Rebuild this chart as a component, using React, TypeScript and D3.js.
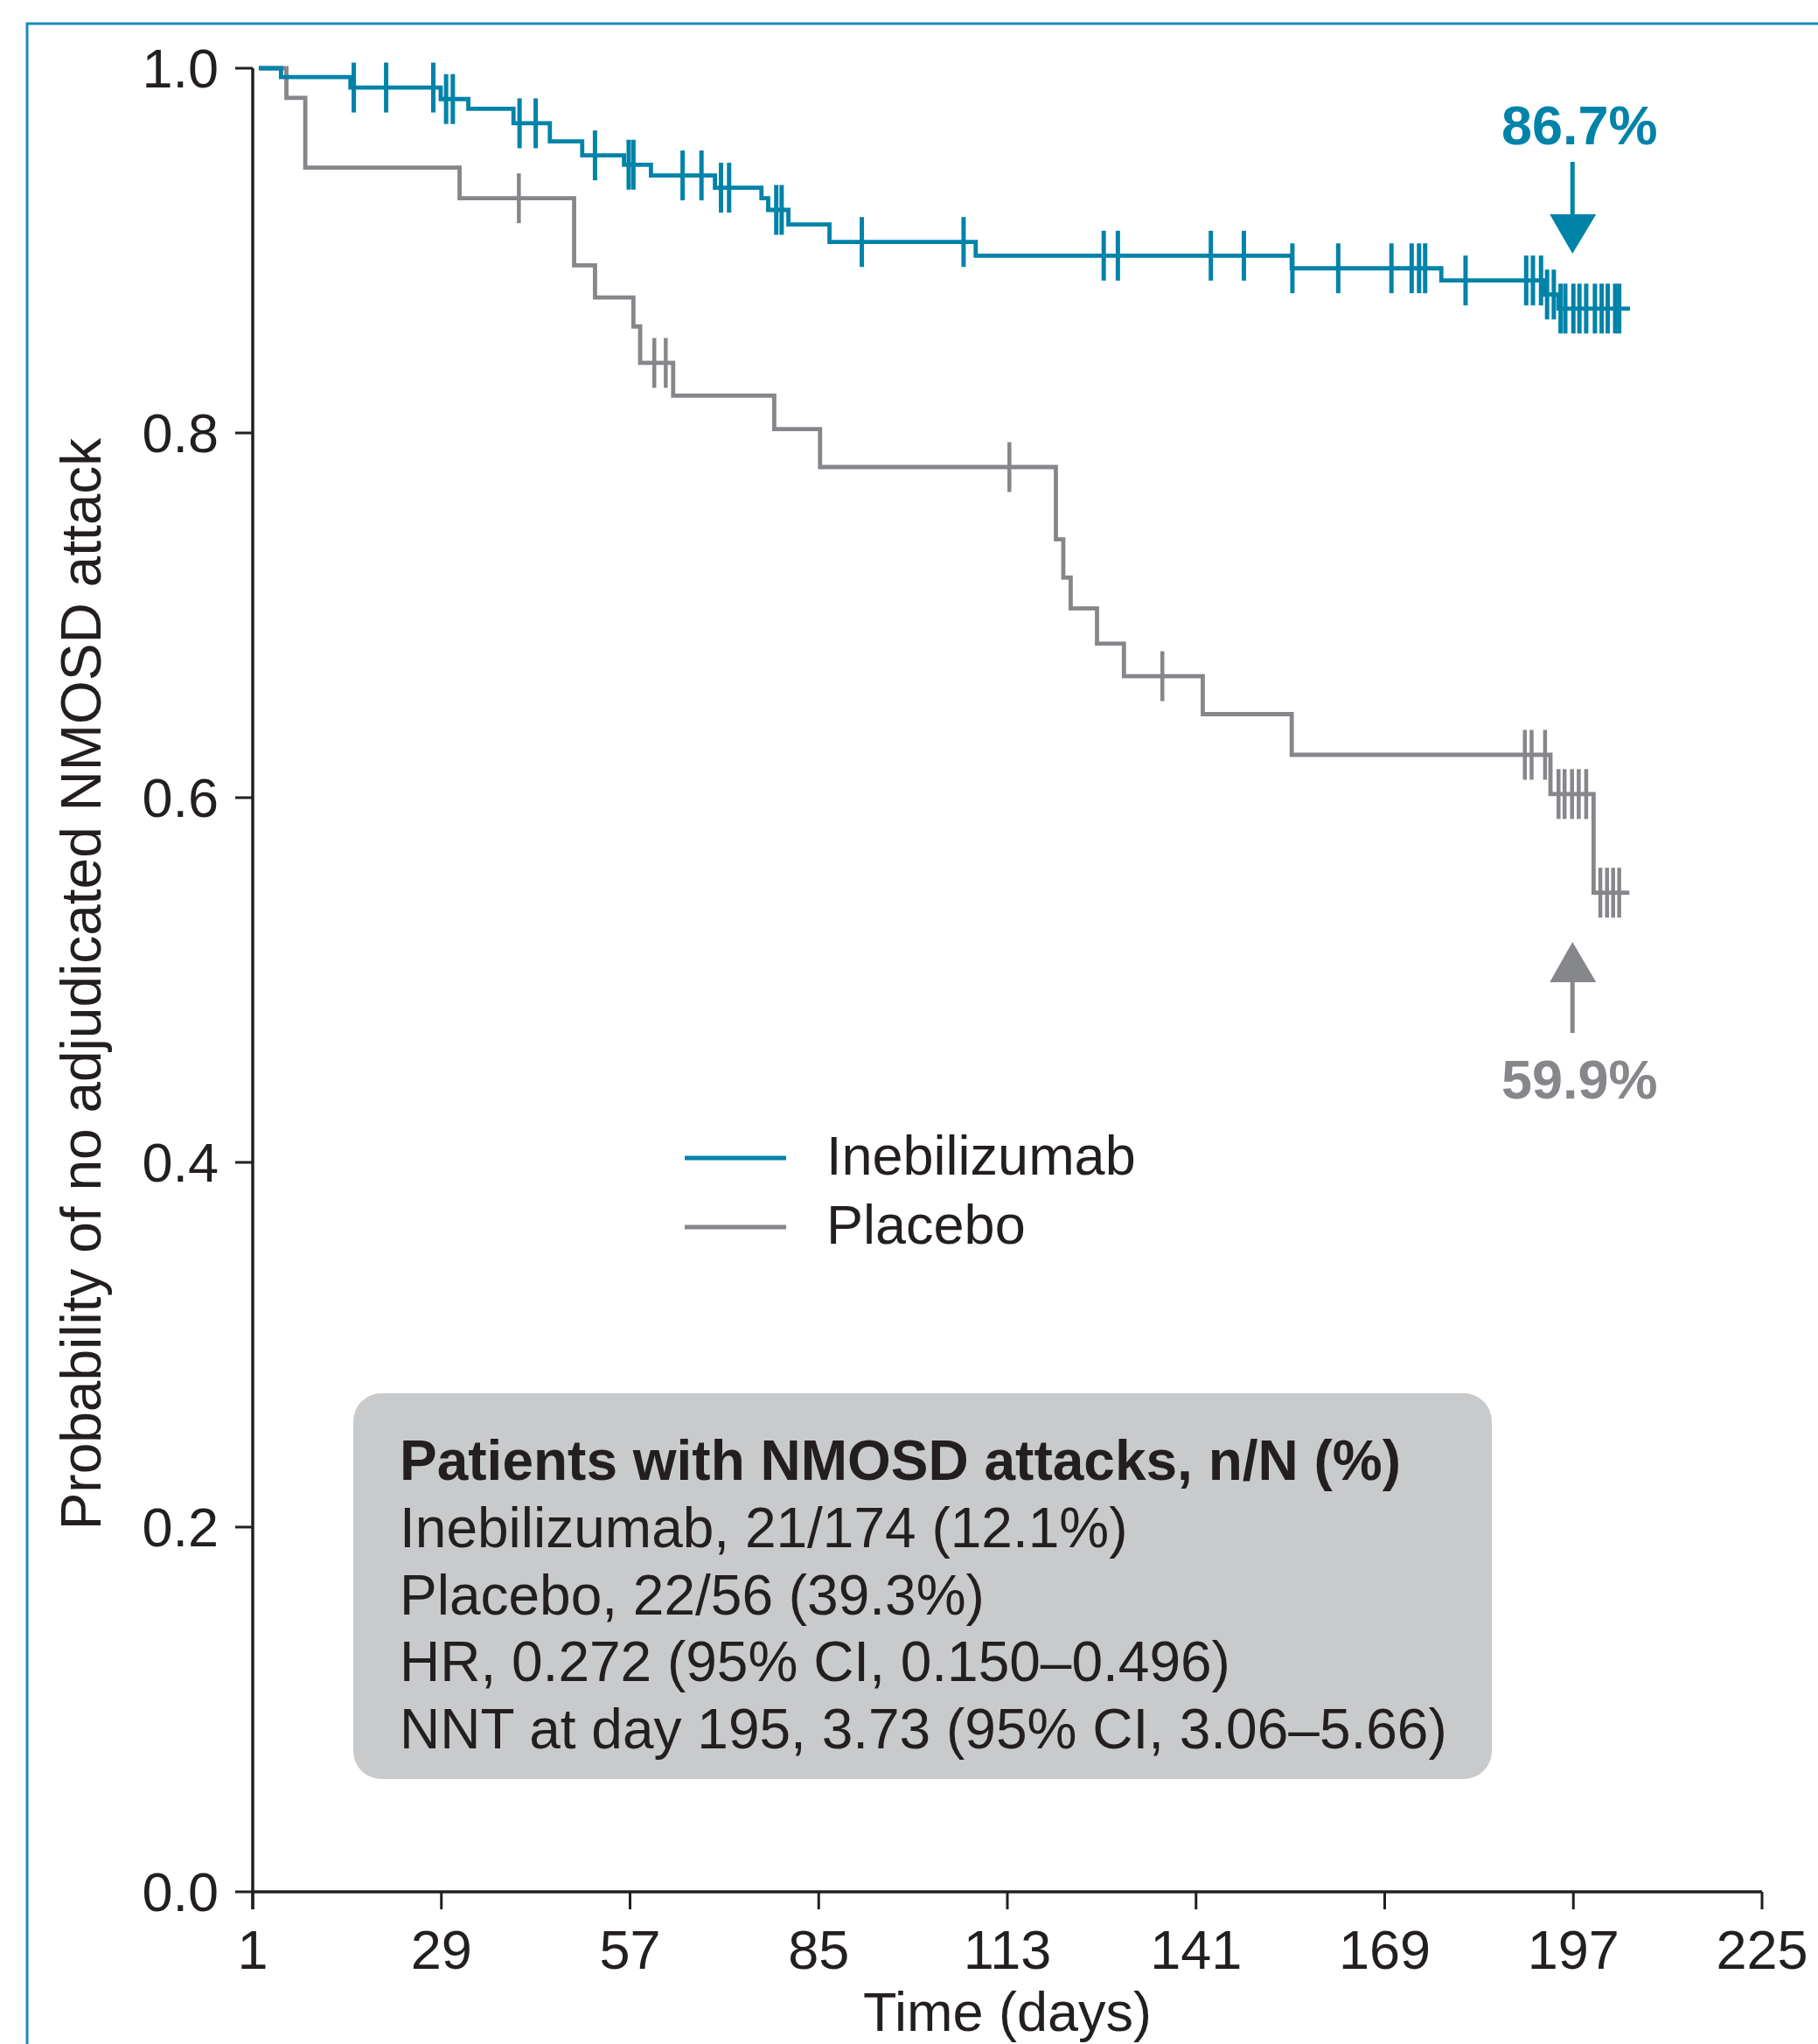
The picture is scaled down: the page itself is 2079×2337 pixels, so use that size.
import React from "react";
import * as d3 from "d3";

// ---------- data ----------
const xTicks = [1, 29, 57, 85, 113, 141, 169, 197, 225];
const yTicks = [0.0, 0.2, 0.4, 0.6, 0.8, 1.0];

// Inebilizumab Kaplan–Meier steps
const inebTimes = [1.9, 5.2, 15.5, 28.9, 33, 39.7, 45.1, 49.9, 56.1, 60.1, 69.6, 76.5, 77.5, 80.5, 86.6, 108.3, 155.2, 177.4, 192.7, 194.8];
const inebSurv = [1.0, 0.9951, 0.9894, 0.9831, 0.9778, 0.9698, 0.9599, 0.9522, 0.9471, 0.9412, 0.9345, 0.9287, 0.9223, 0.9143, 0.9047, 0.8972, 0.8903, 0.8836, 0.8759, 0.8682];
const inebEnd = 205.4;
const inebCensor = [16, 20.8, 27.8, 29.7, 30.7, 40.6, 43, 51.8, 56.8, 57.5, 64.8, 67.6, 70.5, 71.7, 78.7, 79.5, 91.4, 106.5, 127.3, 129.4, 143.2, 148.1, 155.3, 162.1, 170, 173, 174.1, 175, 181, 190, 191, 192.2, 193.1, 194.1, 195.1, 195.8, 197, 197.9, 198.9, 200.2, 201.2, 202.1, 203.2, 203.8];

// Placebo Kaplan–Meier steps
const placTimes = [1.9, 6.0, 8.8, 31.7, 48.7, 51.8, 57.5, 58.5, 63.4, 78.4, 85.2, 120.2, 121.3, 122.4, 126.3, 130.3, 142, 155.2, 193.6, 200];
const placSurv = [1.0, 0.9838, 0.9455, 0.9287, 0.8919, 0.8743, 0.8584, 0.8384, 0.8204, 0.8021, 0.7813, 0.7417, 0.7207, 0.7038, 0.6845, 0.6666, 0.6458, 0.6235, 0.602, 0.5479];
const placEnd = 205.3;
const placCensor = [40.5, 60.6, 62.3, 113.3, 136, 189.8, 190.8, 192.8, 194.8, 195.7, 196.8, 197.8, 198.9, 201, 202, 202.9, 203.8];

const legendLabels = ["Inebilizumab", "Placebo"];
const boxTitle = "Patients with NMOSD attacks, n/N (%)";
const boxLines = [
  "Inebilizumab, 21/174 (12.1%)",
  "Placebo, 22/56 (39.3%)",
  "HR, 0.272 (95% CI, 0.150–0.496)",
  "NNT at day 195, 3.73 (95% CI, 3.06–5.66)",
];
const annotDay = 197;
const inebAnnot = "86.7%";
const placAnnot = "59.9%";

// ---------- styles ----------
const TEAL = "#0083a9";
const GRAY = "#86878b";
const INK = "#231f20";
const FONT = "'Liberation Sans', Arial, Helvetica, sans-serif";

const W = 2079;
const H = 2337;

const x = d3.scaleLinear().domain([1, 225]).range([289, 2015]);
const y = d3.scaleLinear().domain([0, 1]).range([2163, 78]);

function stepAt(times: number[], surv: number[], t: number) {
  let v = surv[0];
  for (let i = 0; i < times.length; i++) {
    if (times[i] <= t) v = surv[i];
  }
  return v;
}

const line = d3
  .line<[number, number]>()
  .x((d) => x(d[0]))
  .y((d) => y(d[1]))
  .curve(d3.curveStepAfter);

function curvePath(times: number[], surv: number[], end: number) {
  const pts: [number, number][] = times.map((t, i) => [t, surv[i]]);
  pts.push([end, surv[surv.length - 1]]);
  return line(pts) || "";
}

export default function App() {
  React.useEffect(() => {
    document.body.style.margin = "0";
  }, []);

  const curves = [
    { times: inebTimes, surv: inebSurv, end: inebEnd, cens: inebCensor, color: TEAL, cw: 5 },
    { times: placTimes, surv: placSurv, end: placEnd, cens: placCensor, color: GRAY, cw: 4.5 },
  ];

  const axPx = x(annotDay) - 1;

  return (
    <div style={{ position: "absolute", left: 0, top: 0 }}>
      <svg width={W} height={H} viewBox={`0 0 ${W} ${H}`} style={{ display: "block", background: "#fff" }}>
        <rect x={0} y={0} width={W} height={H} fill="#fff" />
        {/* frame */}
        <path d={`M31,${H + 5} V27 H${W + 5}`} fill="none" stroke="#1b8cb8" strokeWidth={3} />

        {/* stats box */}
        <rect x={404} y={1593} width={1302} height={441} rx={32} ry={32} fill="#c9cacc" />
        <text x={457} y={1692} fontFamily={FONT} fontSize={64} fontWeight="bold" fill={INK}>
          {boxTitle}
        </text>
        {boxLines.map((s, i) => (
          <text key={s} x={457} y={1769 + i * 76.6} fontFamily={FONT} fontSize={64} fill={INK}>
            {s}
          </text>
        ))}

        {/* curves */}
        {curves
          .slice()
          .reverse()
          .map((c, ci) => (
            <g key={ci}>
              <path d={curvePath(c.times, c.surv, c.end)} fill="none" stroke={c.color} strokeWidth={4.8} />
              {c.cens.map((t, i) => {
                const cy = y(stepAt(c.times, c.surv, t));
                return (
                  <line
                    key={i}
                    x1={x(t)}
                    x2={x(t)}
                    y1={cy - 28.5}
                    y2={cy + 28.5}
                    stroke={c.color}
                    strokeWidth={c.cw}
                  />
                );
              })}
            </g>
          ))}

        {/* axes */}
        <g stroke={INK} fill="none">
          <line x1={289} x2={289} y1={y(1)} y2={2183} strokeWidth={3.5} />
          <line x1={289} x2={x(225)} y1={y(0)} y2={y(0)} strokeWidth={3.5} />
          {yTicks.map((v) => (
            <line key={v} x1={269} x2={289} y1={y(v)} y2={y(v)} strokeWidth={3} />
          ))}
          {xTicks.map((v) => (
            <line key={v} x1={x(v)} x2={x(v)} y1={y(0)} y2={2183} strokeWidth={3} />
          ))}
        </g>
        {yTicks.map((v) => (
          <text key={v} x={250} y={y(v) + 22} textAnchor="end" fontFamily={FONT} fontSize={63} fill={INK}>
            {d3.format(".1f")(v)}
          </text>
        ))}
        {xTicks.map((v) => (
          <text key={v} x={x(v)} y={2251} textAnchor="middle" fontFamily={FONT} fontSize={63} fill={INK}>
            {v}
          </text>
        ))}
        <text x={1152} y={2322} textAnchor="middle" fontFamily={FONT} fontSize={63} fill={INK}>
          Time (days)
        </text>
        <text
          transform="translate(115,1125) rotate(-90)"
          textAnchor="middle"
          fontFamily={FONT}
          fontSize={64}
          fill={INK}
        >
          Probability of no adjudicated NMOSD attack
        </text>

        {/* legend */}
        {legendLabels.map((s, i) => (
          <g key={s}>
            <line x1={783} x2={899} y1={1324 + i * 79} y2={1324 + i * 79} stroke={i === 0 ? TEAL : GRAY} strokeWidth={5} />
            <text x={945} y={1343 + i * 79} fontFamily={FONT} fontSize={63} fill={INK}>
              {s}
            </text>
          </g>
        ))}

        {/* annotations */}
        <text x={axPx + 8} y={165} textAnchor="middle" fontFamily={FONT} fontSize={63} fontWeight="bold" fill={TEAL}>
          {inebAnnot}
        </text>
        <line x1={axPx} x2={axPx} y1={185} y2={248} stroke={TEAL} strokeWidth={5} />
        <path d={`M${axPx - 26},245 L${axPx + 27},245 L${axPx},290 Z`} fill={TEAL} />

        <path d={`M${axPx},1077 L${axPx + 27},1123 L${axPx - 26},1123 Z`} fill={GRAY} />
        <line x1={axPx} x2={axPx} y1={1120} y2={1181} stroke={GRAY} strokeWidth={5} />
        <text x={axPx + 8} y={1256} textAnchor="middle" fontFamily={FONT} fontSize={63} fontWeight="bold" fill={GRAY}>
          {placAnnot}
        </text>
      </svg>
    </div>
  );
}
